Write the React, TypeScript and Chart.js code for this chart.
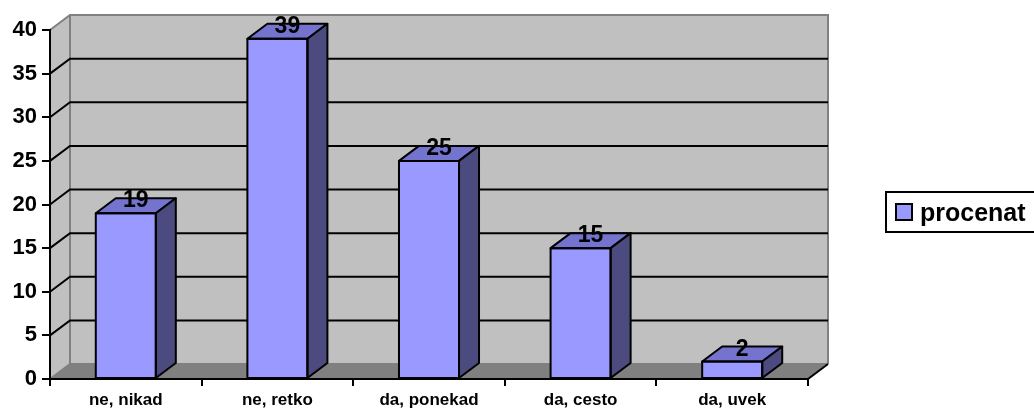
import React, { useEffect, useRef } from 'react';
import { Chart, registerables } from 'chart.js';

Chart.register(...registerables);

const categories = ['ne, nikad', 'ne, retko', 'da, ponekad', 'da, cesto', 'da, uvek'];
const values = [19, 39, 25, 15, 2];
const seriesLabel = 'procenat';
const yMin = 0;
const yMax = 40;
const yStep = 5;

const FONT = '"Liberation Sans", Arial, Helvetica, sans-serif';
const DX = 20;
const DY = -15;
const FRONT = '#9999FF';
const TOP = '#7474CF';
const SIDE = '#4B4B7F';
const WALL = '#C0C0C0';
const FLOOR = '#808080';
const EDGE = '#808080';

function poly(ctx: CanvasRenderingContext2D, pts: number[][]) {
  ctx.beginPath();
  ctx.moveTo(pts[0][0], pts[0][1]);
  for (let i = 1; i < pts.length; i++) ctx.lineTo(pts[i][0], pts[i][1]);
  ctx.closePath();
}

const threeD = {
  id: 'threeD',
  beforeDraw(chart: any) {
    const { ctx, chartArea: a, scales } = chart;
    const y = scales.y;
    ctx.save();
    ctx.fillStyle = WALL;
    poly(ctx, [[a.left, a.bottom], [a.left, a.top], [a.left + DX, a.top + DY], [a.left + DX, a.bottom + DY]]);
    ctx.fill();
    ctx.fillRect(a.left + DX, a.top + DY, a.right - a.left, a.bottom - a.top);
    ctx.fillStyle = FLOOR;
    poly(ctx, [[a.left, a.bottom], [a.right, a.bottom], [a.right + DX, a.bottom + DY], [a.left + DX, a.bottom + DY]]);
    ctx.fill();
    ctx.strokeStyle = EDGE;
    ctx.lineWidth = 2;
    ctx.beginPath();
    ctx.moveTo(a.left, a.top);
    ctx.lineTo(a.left + DX, a.top + DY);
    ctx.lineTo(a.right + DX, a.top + DY);
    ctx.lineTo(a.right + DX, a.bottom + DY);
    ctx.moveTo(a.left + DX, a.top + DY);
    ctx.lineTo(a.left + DX, a.bottom + DY);
    ctx.lineTo(a.right + DX, a.bottom + DY);
    ctx.moveTo(a.left, a.bottom);
    ctx.lineTo(a.left + DX, a.bottom + DY);
    ctx.stroke();
    ctx.strokeStyle = '#000';
    ctx.lineWidth = 2;
    for (let v = yMin + yStep; v < yMax; v += yStep) {
      const py = y.getPixelForValue(v);
      ctx.beginPath();
      ctx.moveTo(a.left, py);
      ctx.lineTo(a.left + DX, py + DY);
      ctx.lineTo(a.right + DX, py + DY);
      ctx.stroke();
    }
    ctx.beginPath();
    ctx.moveTo(a.right, a.bottom);
    ctx.lineTo(a.right + DX, a.bottom + DY);
    ctx.stroke();
    ctx.restore();
  },
  afterDatasetsDraw(chart: any) {
    const { ctx } = chart;
    const meta = chart.getDatasetMeta(0);
    const data = chart.data.datasets[0].data;
    ctx.save();
    ctx.lineWidth = 2;
    ctx.lineJoin = 'round';
    ctx.strokeStyle = '#000';
    meta.data.forEach((bar: any, i: number) => {
      const p = bar.getProps(['x', 'y', 'base', 'width'], true);
      const L = p.x - p.width / 2;
      const R = p.x + p.width / 2;
      const T = p.y;
      const B = p.base;
      ctx.fillStyle = TOP;
      poly(ctx, [[L, T], [R, T], [R + DX, T + DY], [L + DX, T + DY]]);
      ctx.fill();
      ctx.stroke();
      ctx.fillStyle = SIDE;
      poly(ctx, [[R, T], [R + DX, T + DY], [R + DX, B + DY], [R, B]]);
      ctx.fill();
      ctx.stroke();
      ctx.strokeRect(L, T, R - L, B - T);
      ctx.fillStyle = '#000';
      ctx.font = `bold 23px ${FONT}`;
      ctx.textAlign = 'center';
      ctx.textBaseline = 'alphabetic';
      ctx.fillText(String(data[i]), p.x + 10, T - 6);
    });
    ctx.restore();
  },
  afterDraw(chart: any) {
    const { ctx } = chart;
    ctx.save();
    ctx.lineWidth = 2;
    ctx.strokeStyle = '#000';
    ctx.fillStyle = '#fff';
    ctx.fillRect(886, 192, 160, 40);
    ctx.strokeRect(886, 192, 160, 40);
    ctx.fillStyle = FRONT;
    ctx.fillRect(896, 204, 16, 16);
    ctx.strokeRect(896, 204, 16, 16);
    ctx.fillStyle = '#000';
    ctx.font = `bold 25px ${FONT}`;
    ctx.textAlign = 'left';
    ctx.textBaseline = 'alphabetic';
    ctx.fillText(chart.data.datasets[0].label, 920, 221);
    ctx.restore();
  },
};

export default function App() {
  const ref = useRef<HTMLCanvasElement>(null);
  useEffect(() => {
    if (!ref.current) return;
    const chart = new Chart(ref.current, {
      type: 'bar',
      data: {
        labels: categories,
        datasets: [
          {
            label: seriesLabel,
            data: values,
            backgroundColor: FRONT,
            borderColor: '#000',
            borderWidth: 0,
            categoryPercentage: 1,
            barPercentage: 0.396,
          },
        ],
      },
      plugins: [threeD],
      options: {
        animation: false,
        responsive: false,
        devicePixelRatio: 1,
        layout: { padding: { left: 0, top: 30, right: 226, bottom: 0 } },
        plugins: { legend: { display: false }, tooltip: { enabled: false } },
        scales: {
          x: {
            grid: { offset: true, drawOnChartArea: false, drawTicks: true, tickLength: 7, color: '#000', lineWidth: 2 },
            border: { display: true, color: '#000', width: 2 },
            ticks: { color: '#000', font: { family: FONT, size: 17, weight: 'bold' }, padding: 4 },
            afterFit: (s: any) => { s.height = 30; },
          },
          y: {
            min: yMin,
            max: yMax,
            grid: { drawOnChartArea: false, drawTicks: true, tickLength: 8, color: '#000', lineWidth: 2 },
            border: { display: true, color: '#000', width: 2 },
            ticks: { stepSize: yStep, color: '#000', font: { family: FONT, size: 22, weight: 'bold' }, padding: 5 },
            afterFit: (s: any) => { s.width = 50; },
          },
        },
      } as any,
    });
    return () => chart.destroy();
  }, []);
  return (
    <div style={{ position: 'fixed', left: 0, top: 0, width: 1034, height: 409, background: '#fff' }}>
      <canvas ref={ref} width={1034} height={409} style={{ display: 'block' }} />
    </div>
  );
}
